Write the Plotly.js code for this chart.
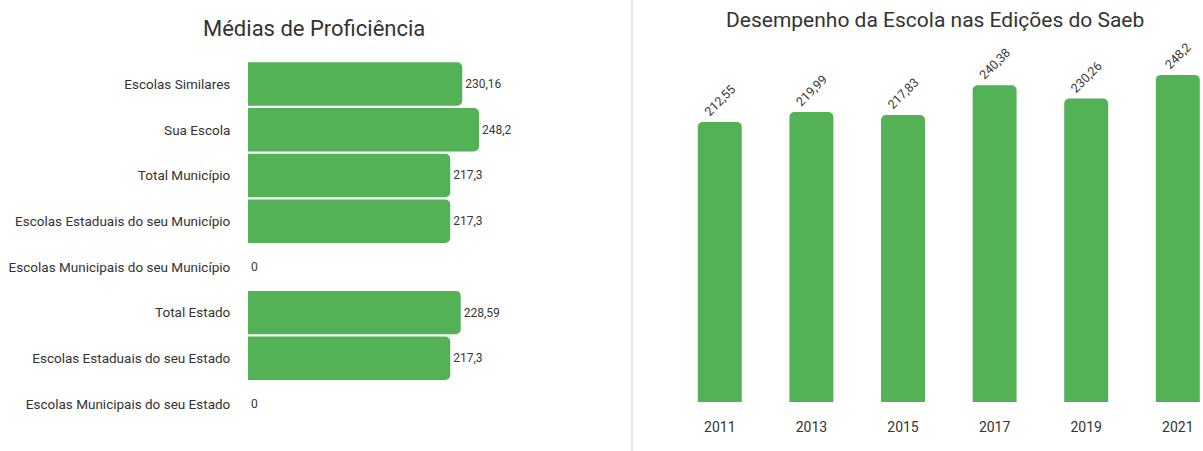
<!DOCTYPE html>
<html>
<head>
<meta charset="utf-8">
<script src="https://cdn.plot.ly/plotly-3.0.1.min.js"></script>
<style>html,body{margin:0;padding:0;background:#fff;}#chart{width:1203px;height:451px;}</style>
</head>
<body>
<div id="chart"></div>
<script>
const categorias = ["Escolas Similares","Sua Escola","Total Município","Escolas Estaduais do seu Município","Escolas Municipais do seu Município","Total Estado","Escolas Estaduais do seu Estado","Escolas Municipais do seu Estado"];
const medias = [230.16, 248.2, 217.3, 217.3, 0, 228.59, 217.3, 0];
const anos = ["2011","2013","2015","2017","2019","2021"];
const desempenho = [212.55, 219.99, 217.83, 240.38, 230.26, 248.2];

const fmt = v => String(v).replace('.', ',');
const verde = '#53b156';
const W = 1203, H = 451;

const traces = [
  {
    type: 'bar', orientation: 'h',
    x: medias, y: categorias,
    xaxis: 'x', yaxis: 'y',
    marker: {color: verde, cornerradius: 5, line: {width: 0}},
    text: medias.map(fmt), textposition: 'outside', cliponaxis: false,
    constraintext: 'none',
    textfont: {family: 'Roboto', size: 12, color: '#383838'},
    hoverinfo: 'none'
  },
  {
    type: 'bar',
    x: anos, y: desempenho,
    width: 0.48,
    xaxis: 'x2', yaxis: 'y2',
    marker: {color: verde, cornerradius: 5, line: {width: 0}},
    text: desempenho.map(fmt), textposition: 'outside', textangle: -45, cliponaxis: false,
    constraintext: 'none',
    textfont: {family: 'Roboto', size: 12.5, color: '#383838'},
    hoverinfo: 'none'
  }
];

const layout = {
  width: W, height: H,
  margin: {l: 0, r: 0, t: 0, b: 0},
  paper_bgcolor: '#fff', plot_bgcolor: '#fff',
  showlegend: false,
  font: {family: 'Roboto', color: '#333'},
  bargap: 0.05,
  xaxis: {
    domain: [248/W, 600/W], range: [0, 378.2],
    showgrid: false, zeroline: false, showticklabels: false, showline: false, fixedrange: true
  },
  yaxis: {
    domain: [1 - 426.9/H, 1 - 61.2/H], autorange: 'reversed',
    showgrid: false, zeroline: false, showline: false,
    ticks: 'outside', ticklen: 14, tickcolor: 'rgba(0,0,0,0)',
    tickfont: {family: 'Roboto', size: 13.5, color: '#333'}, fixedrange: true
  },
  xaxis2: {
    anchor: 'y2', domain: [674/W, 1], range: [-0.5, 5.275], type: 'category',
    showgrid: false, zeroline: false, showline: false,
    ticks: 'outside', ticklen: 12, tickcolor: 'rgba(0,0,0,0)',
    tickfont: {family: 'Roboto', size: 14, color: '#333'}, fixedrange: true
  },
  yaxis2: {
    anchor: 'x2', domain: [1 - 402/H, 1 - 60/H], range: [0, 259.5],
    showgrid: false, zeroline: false, showline: false, showticklabels: false, fixedrange: true
  },
  annotations: [
    {text: 'Médias de Proficiência', xref: 'paper', yref: 'paper', x: 314/W, y: 1 - 28/H,
     xanchor: 'center', yanchor: 'middle', showarrow: false,
     font: {family: 'Roboto', size: 22, color: '#333'}},
    {text: 'Desempenho da Escola nas Edições do Saeb', xref: 'paper', yref: 'paper', x: 935/W, y: 1 - 20/H,
     xanchor: 'center', yanchor: 'middle', showarrow: false,
     font: {family: 'Roboto', size: 21, color: '#333'}}
  ],
  shapes: [
    {type: 'line', xref: 'paper', yref: 'paper', x0: 632/W, x1: 632/W, y0: 0, y1: 1,
     line: {color: '#cccccc', width: 1}}
  ]
};

Plotly.newPlot('chart', traces, layout, {displayModeBar: false, staticPlot: true});
</script>
</body>
</html>
